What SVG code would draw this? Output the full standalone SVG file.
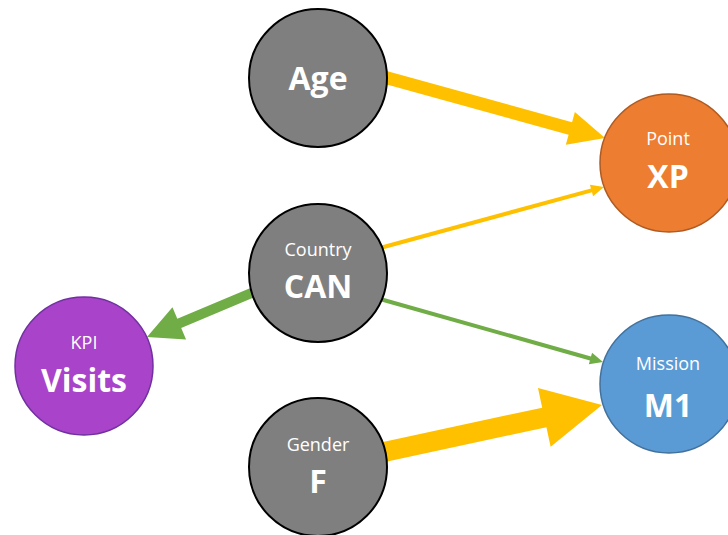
<svg xmlns="http://www.w3.org/2000/svg" width="728" height="535" viewBox="0 0 728 535">
  <style>
    .bg { fill: #FFFFFF; }
    .node-gray { fill: #7F7F7F; stroke: #000000; stroke-width: 2; }
    .node-orange { fill: #ED7D31; stroke: #AE5A21; stroke-width: 1.5; }
    .node-blue { fill: #5B9BD5; stroke: #41719C; stroke-width: 1.5; }
    .node-purple { fill: #A943C9; stroke: #7030A0; stroke-width: 1.5; }
    .lbl-small { font-family: "Open Sans", "Liberation Sans", sans-serif; font-size: 18px; fill: #FFFFFF; text-anchor: middle; }
    .lbl-big { font-family: "Open Sans", "Liberation Sans", sans-serif; font-size: 32px; font-weight: bold; fill: #FFFFFF; text-anchor: middle; }
    .yellow { fill: #FFC000; }
    .green { fill: #70AD47; }
  </style>
  <rect class="bg" x="0" y="0" width="728" height="535"/>

  <!-- block arrows: shaft + triangular head, drawn along the local x axis -->
  <g id="connectors">
    <path id="age-xp" class="yellow" transform="translate(384,77) rotate(15.43)" d="M0,-6.5 H193.3 V-17 L229.3,0 L193.3,17 V6.5 H0 Z"/>
    <path id="can-xp" class="yellow" transform="translate(380,248) rotate(-15.23)" d="M0,-2 H219.2 V-6 L232.2,0 L219.2,6 V2 H0 Z"/>
    <path id="can-m1" class="green" transform="translate(380,299) rotate(15.78)" d="M0,-2 H218.7 V-6 L231.7,0 L218.7,6 V2 H0 Z"/>
    <path id="can-visits" class="green" transform="translate(256,291) rotate(157.12)" d="M0,-5 H83.3 V-17.5 L118.3,0 L83.3,17.5 V5 H0 Z"/>
    <path id="f-m1" class="yellow" transform="translate(384,452) rotate(-12.17)" d="M0,-10 H164 V-30 L223,0 L164,30 V10 H0 Z"/>
  </g>

  <g id="node-age">
    <circle class="node-gray" cx="318" cy="78" r="69"/>
    <text class="lbl-big" x="318" y="90">Age</text>
  </g>

  <g id="node-country">
    <circle class="node-gray" cx="318" cy="273" r="69"/>
    <text class="lbl-small" x="318" y="256">Country</text>
    <text class="lbl-big" x="318" y="298">CAN</text>
  </g>

  <g id="node-gender">
    <circle class="node-gray" cx="318" cy="467" r="69"/>
    <text class="lbl-small" x="318" y="451">Gender</text>
    <text class="lbl-big" x="318" y="493">F</text>
  </g>

  <g id="node-point">
    <circle class="node-orange" cx="669" cy="163" r="69"/>
    <text class="lbl-small" x="668" y="145">Point</text>
    <text class="lbl-big" x="668" y="188">XP</text>
  </g>

  <g id="node-mission">
    <circle class="node-blue" cx="669" cy="384" r="69"/>
    <text class="lbl-small" x="668" y="370">Mission</text>
    <text class="lbl-big" x="668" y="417">M1</text>
  </g>

  <g id="node-kpi">
    <circle class="node-purple" cx="84" cy="366" r="69"/>
    <text class="lbl-small" x="84" y="349">KPI</text>
    <text class="lbl-big" x="84" y="392">Visits</text>
  </g>
</svg>
